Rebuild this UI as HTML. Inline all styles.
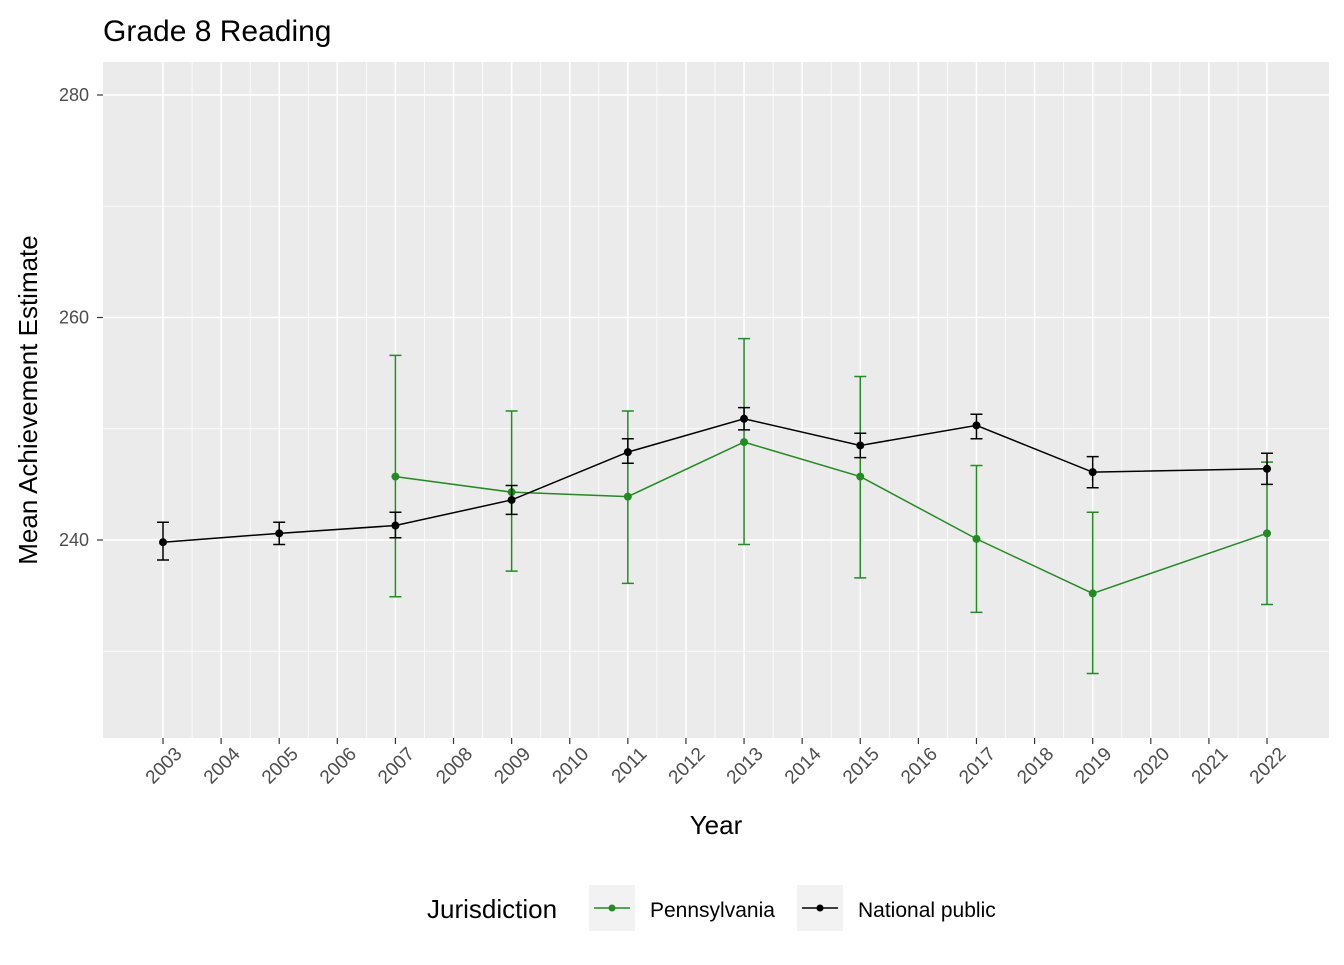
<!DOCTYPE html>
<html><head><meta charset="utf-8"><style>
body{margin:0;background:#fff;}
svg text{font-family:"Liberation Sans",Arial,sans-serif;}
</style></head><body>
<svg id="chart" width="1344" height="960" xmlns="http://www.w3.org/2000/svg">
<rect width="1344" height="960" fill="#fff"/>
<text x="103" y="41" font-size="30" fill="#000">Grade 8 Reading</text>
<rect x="103" y="62" width="1226" height="676" fill="#ebebeb"/>
<g id="grid"></g>
<g id="axes"></g>
<g id="series"></g>
<text x="716" y="834" font-size="26" text-anchor="middle" fill="#000">Year</text>
<text transform="translate(37,400) rotate(-90)" font-size="26" text-anchor="middle" fill="#000">Mean Achievement Estimate</text>
<g>
<text x="427" y="918" font-size="26" fill="#000">Jurisdiction</text>
<g>
<rect x="589" y="885" width="46" height="46" fill="#f2f2f2"/>
<line x1="594" y1="908" x2="630" y2="908" stroke="#228b22" stroke-width="1.5"/>
<circle cx="612" cy="908" r="3.5" fill="#228b22"/>
<text x="650" y="917" font-size="21" fill="#000">Pennsylvania</text></g>
<g>
<rect x="797" y="885" width="46" height="46" fill="#f2f2f2"/>
<line x1="802" y1="908" x2="838" y2="908" stroke="#000" stroke-width="1.5"/>
<circle cx="820" cy="908" r="3.5" fill="#000"/>
<text x="858" y="917" font-size="21" fill="#000">National public</text></g>
</g>
</svg>
<script>
const years=[2003,2004,2005,2006,2007,2008,2009,2010,2011,2012,2013,2014,2015,2016,2017,2018,2019,2020,2021,2022];
const yTicks=[240,260,280];
const natYears=[2003,2005,2007,2009,2011,2013,2015,2017,2019,2022];
const natVal=[239.8,240.6,241.3,243.6,247.9,250.9,248.5,250.3,246.1,246.4];
const natLo=[238.2,239.6,240.2,242.3,246.9,249.9,247.4,249.1,244.7,245.0];
const natHi=[241.6,241.6,242.5,244.9,249.1,251.9,249.6,251.3,247.5,247.8];
const paYears=[2007,2009,2011,2013,2015,2017,2019,2022];
const paVal=[245.7,244.3,243.9,248.8,245.7,240.1,235.2,240.6];
const paLo=[234.9,237.2,236.1,239.6,236.6,233.5,228.0,234.2];
const paHi=[256.6,251.6,251.6,258.1,254.7,246.7,242.5,247.0];
const NS="http://www.w3.org/2000/svg";
const xs=y=>163+(y-2003)*(1104/19);
const ys=v=>540-(v-240)*11.125;
function el(t,a,p){const e=document.createElementNS(NS,t);for(const k in a)e.setAttribute(k,a[k]);p.appendChild(e);return e;}
const grid=document.getElementById('grid'),axes=document.getElementById('axes'),ser=document.getElementById('series');
[230,250,270].forEach(v=>{const l=el('line',{x1:103,x2:1329,y1:ys(v),y2:ys(v),stroke:'#fff','stroke-width':0.8},grid);

});
years.forEach((y,i)=>{if(i<years.length-1){const l=el('line',{x1:xs(y+0.5),x2:xs(y+0.5),y1:62,y2:738,stroke:'#fff','stroke-width':0.8},grid);

}});
yTicks.forEach(v=>{const l=el('line',{x1:103,x2:1329,y1:ys(v),y2:ys(v),stroke:'#fff','stroke-width':1.6},grid);


const t=el('line',{x1:97,x2:103,y1:ys(v),y2:ys(v),stroke:'#333','stroke-width':1.2},axes);


const tx=el('text',{x:89,y:ys(v)+6,'font-size':18,'text-anchor':'end',fill:'#4d4d4d'},axes);tx.textContent=v;

});
years.forEach(y=>{const x=xs(y);
const l=el('line',{x1:x,x2:x,y1:62,y2:738,stroke:'#fff','stroke-width':1.6},grid);


const t=el('line',{x1:x,x2:x,y1:738,y2:744,stroke:'#333','stroke-width':1.2},axes);


const tx=el('text',{transform:`translate(${x+20},${755}) rotate(-45)`,'font-size':19,'text-anchor':'end',fill:'#4d4d4d'},axes);tx.textContent=y;

});
function series(yrs,val,lo,hi,col,name){
const g=el('g',{},ser);


const pl=el('polyline',{points:yrs.map((y,i)=>xs(y)+','+ys(val[i])).join(' '),fill:'none',stroke:col,'stroke-width':1.5},g);


yrs.forEach((y,i)=>{const x=xs(y),a=ys(lo[i]),b=ys(hi[i]);
const e=el('path',{d:`M${x-6},${a}H${x+6}M${x},${a}V${b}M${x-6},${b}H${x+6}`,stroke:col,'stroke-width':1.5,fill:'none'},g);


const c=el('circle',{cx:x,cy:ys(val[i]),r:4,fill:col},g);

});}
series(paYears,paVal,paLo,paHi,'#228b22','pennsylvania');
series(natYears,natVal,natLo,natHi,'#000','national-public');
</script>
</body></html>
